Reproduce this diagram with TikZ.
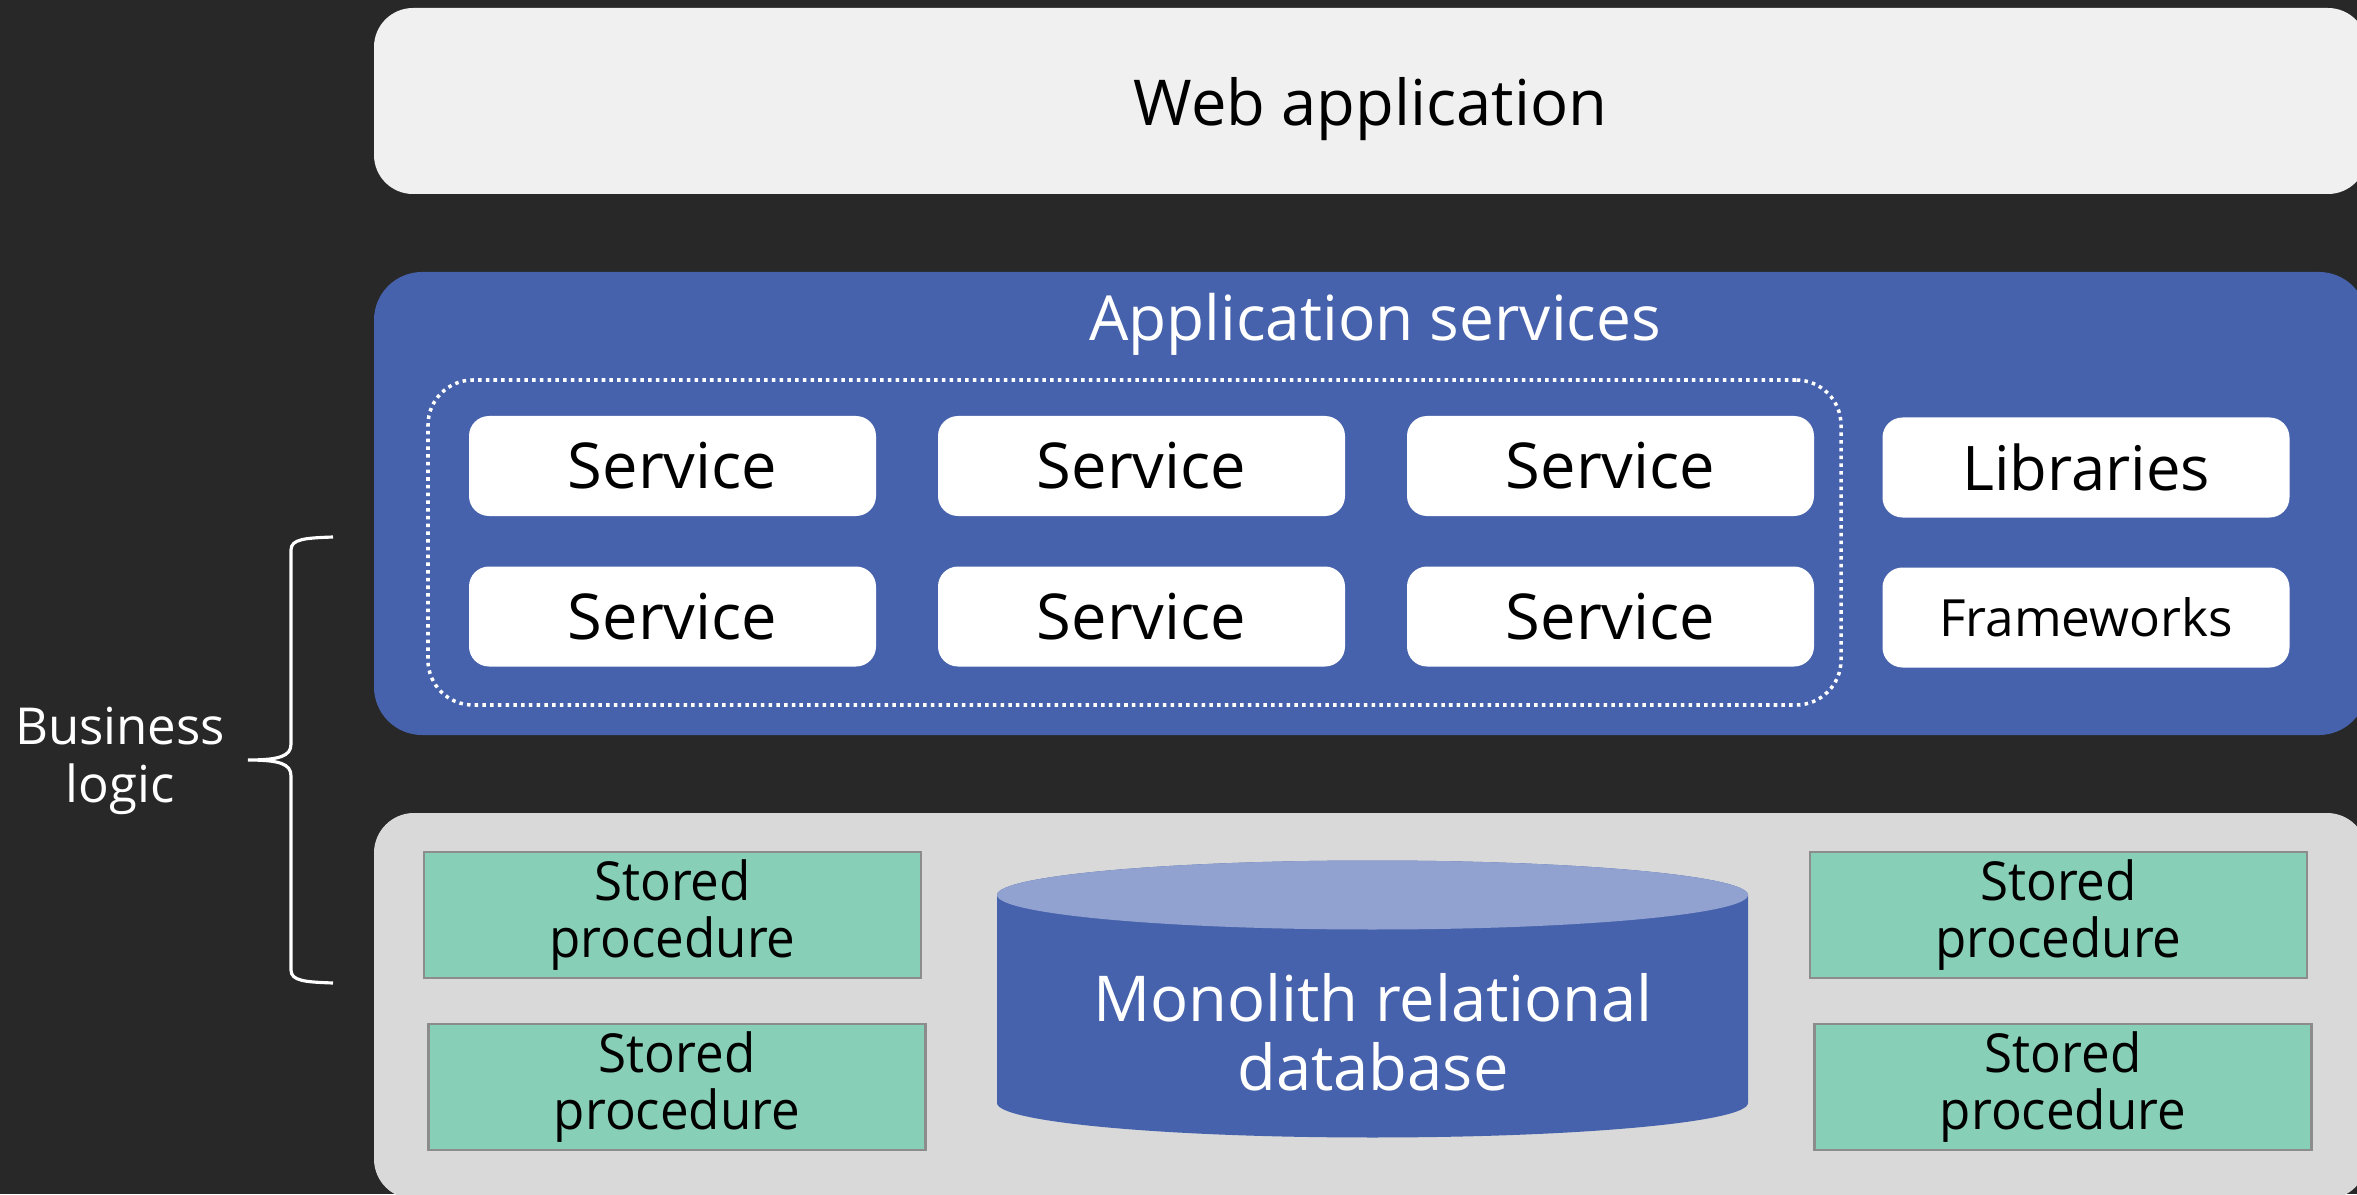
\documentclass[tikz,border=0pt]{standalone}
\usepackage{fontspec}
\setmainfont{Open Sans}
\newfontfamily\narrowfont{Open Sans}[FakeStretch=0.95]
\usepackage{xcolor}
\definecolor{bgdark}{HTML}{282828}
\definecolor{webgray}{HTML}{F0F0F0}
\definecolor{appblue}{HTML}{4762AC}
\definecolor{dbtop}{HTML}{91A2D0}
\definecolor{dbgray}{HTML}{D9D9D9}
\definecolor{procgreen}{HTML}{88CFB8}
\definecolor{procedge}{HTML}{8C8C8C}
\tikzset{
	layer/.style={inner sep=0pt, text depth=0pt},
	svcbox/.style={fill=white, rounded corners=0.2cm, minimum width=4.07cm, minimum height=1.0cm, inner sep=0pt, font=\fontsize{18}{21}\selectfont},
	procbox/.style={fill=procgreen, draw=procedge, line width=0.6pt, minimum width=4.97cm, minimum height=1.26cm, inner sep=0pt, align=center, font=\narrowfont\fontsize{15.3}{16}\selectfont}
}
\newcommand{\service}[3] % name, x in cm, y in cm
{
	\node[svcbox] (#1) at (#2,#3) {Service};
}
\newcommand{\storedproc}[3] % name, x in cm, y in cm
{
	\node[procbox] (#1) at (#2,#3) {Stored\\procedure};
}

\begin{document}
\begin{tikzpicture}
	% canvas: 2357 x 1194 px, 1px = 0.01cm
	\useasboundingbox (0,0) rectangle (23.57,11.94);
	\clip (0,0) rectangle (23.57,11.94);
	\fill[bgdark] (0,0) rectangle (23.57,11.94);
	
	% web layer
	\node[layer, fill=webgray, rounded corners=0.39cm, minimum width=19.93cm, minimum height=1.86cm, font=\fontsize{18}{21}\selectfont] (web) at (13.705,10.93) {Web application};
	
	% application services layer
	\node[layer, fill=appblue, rounded corners=0.48cm, minimum width=19.93cm, minimum height=4.63cm] (appsvc) at (13.705,6.905) {};
	\node[text=white, font=\fontsize{17.7}{21}\selectfont, text depth=0pt] (appsvctitle) at (13.75,8.77) {Application services};
	\node[draw=white, line width=1pt, dash pattern=on 1pt off 1.2pt, rounded corners=0.45cm, minimum width=14.13cm, minimum height=3.25cm] (svcgroup) at (11.345,6.515) {};
	
	\service{svca}{6.725}{7.28};
	\service{svcb}{11.415}{7.28};
	\service{svcc}{16.105}{7.28};
	\service{svcd}{6.725}{5.775};
	\service{svce}{11.415}{5.775};
	\service{svcf}{16.105}{5.775};
	
	\node[svcbox, font=\fontsize{17.5}{20}\selectfont] (libs) at (20.86,7.265) {Libraries};
	\node[svcbox, font=\fontsize{14.6}{17}\selectfont] (fworks) at (20.86,5.765) {Frameworks};
	
	% database layer
	\node[layer, fill=dbgray, rounded corners=0.4cm, minimum width=19.93cm, minimum height=3.86cm] (dblayer) at (13.705,1.88) {};
	
	\storedproc{spa}{6.725}{2.79};
	\storedproc{spb}{6.77}{1.07};
	\storedproc{spc}{20.585}{2.79};
	\storedproc{spd}{20.63}{1.07};
	
	% cylinder: rx 3.755, ry 0.345
	\fill[appblue] (9.97,2.99) -- (9.97,0.91) arc[start angle=180, end angle=360, x radius=3.755cm, y radius=0.345cm] -- (17.48,2.99) arc[start angle=0, end angle=180, x radius=3.755cm, y radius=0.345cm] -- cycle;
	\fill[dbtop] (13.725,2.99) ellipse[x radius=3.755cm, y radius=0.345cm];
	\node[text=white, align=center, font=\fontsize{18}{19.6}\selectfont] (db) at (13.73,1.62) {Monolith relational\\database};
	
	% business logic brace
	\draw[white, line width=0.9pt] (3.33,6.57) .. controls (3.05,6.56) and (2.91,6.55) .. (2.91,6.44) -- (2.91,4.50) .. controls (2.91,4.38) and (2.80,4.34) .. (2.48,4.34) .. controls (2.80,4.34) and (2.91,4.30) .. (2.91,4.18) -- (2.91,2.24) .. controls (2.91,2.13) and (3.05,2.12) .. (3.33,2.11);
	\node[text=white, align=center, font=\fontsize{14.5}{16.5}\selectfont] (bizlogic) at (1.20,4.33) {Business\\logic};
\end{tikzpicture}
\end{document}
